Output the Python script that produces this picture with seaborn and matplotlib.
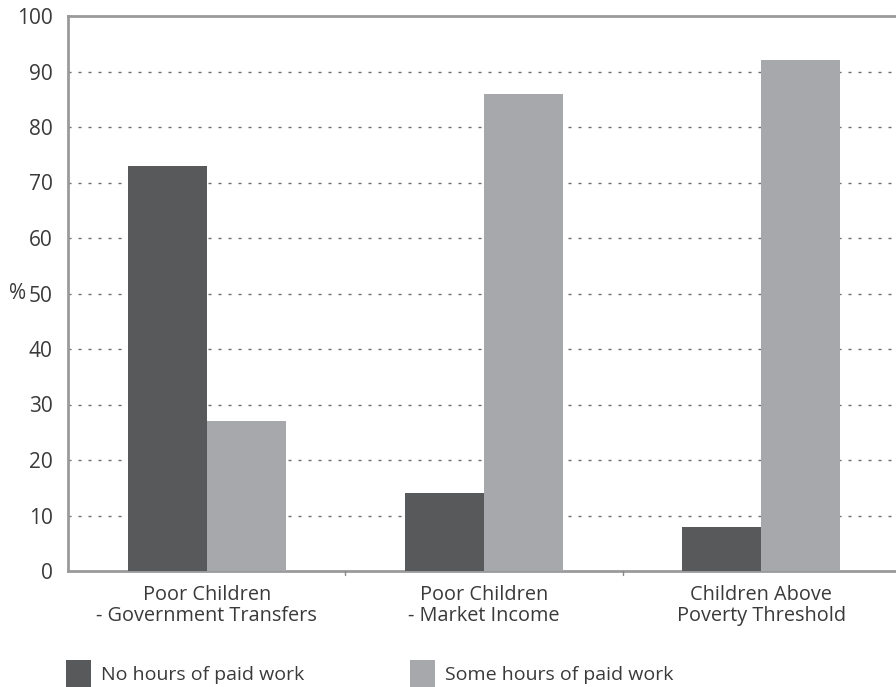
import matplotlib
matplotlib.use("Agg")
import matplotlib.pyplot as plt
import seaborn as sns
import pandas as pd
from matplotlib.patches import Patch

categories = ["Poor Children\n- Government Transfers", "Poor Children\n- Market Income", "Children Above\nPoverty Threshold"]
series_names = ["No hours of paid work", "Some hours of paid work"]
no_hours = [73, 14, 8]
some_hours = [27, 86, 92]
yticks = [0, 10, 20, 30, 40, 50, 60, 70, 80, 90, 100]

sns.set_theme(style="white")
plt.rcParams['font.family'] = ['Open Sans', 'DejaVu Sans']

df = pd.DataFrame({
    "category": categories * 2,
    "series": [series_names[0]] * 3 + [series_names[1]] * 3,
    "value": no_hours + some_hours,
})

text_color = "#3a3a3a"
colors = ["#58595b", "#a7a8ab"]
fig = plt.figure(figsize=(8.96, 6.87), dpi=100)
ax = fig.add_axes([68/896, (687-571)/687, (900-68)/896, (571-16)/687])

sns.barplot(data=df, x="category", y="value", hue="series", palette=colors,
            width=0.57, saturation=1, ax=ax, zorder=3, legend=False, linewidth=0)

ax.set_xlim(-0.5, 2.5)
ax.set_ylim(0, 100)
ax.set_yticks(yticks)
ax.set_yticklabels([str(t) for t in yticks], fontsize=15, color=text_color)
ax.set_xlabel("")
ax.set_ylabel("%", rotation=0, fontsize=15, color=text_color, va="center", ha="center")
ax.yaxis.set_label_coords((17.5-68)/832, 0.5)

for y in yticks[1:-1]:
    ax.axhline(y, color="#6f6f6f", linestyle=(0, (2.2, 5)), linewidth=1.0, zorder=1)

ax.set_xticks([0, 1, 2])
ax.set_xticklabels(categories, fontsize=14.3, color=text_color, linespacing=1.08)
ax.tick_params(axis="x", length=0, pad=10)
for xb in [0.5, 1.5]:
    ax.plot([xb, xb], [0, -0.8], color="#888888", lw=1, clip_on=False, zorder=4)
ax.tick_params(axis="y", length=3, width=1, color="#666666", direction="out", pad=8)

for side in ["left", "top", "bottom"]:
    ax.spines[side].set_color("#9a9a9c")
    ax.spines[side].set_linewidth(2)
    ax.spines[side].set_visible(True)
ax.spines["right"].set_visible(False)

legend_x = [66, 410]
for name, c, lx in zip(series_names, colors, legend_x):
    leg = fig.legend([Patch(facecolor=c, edgecolor="none")], [name], loc="center left",
                     bbox_to_anchor=(lx/896, (687-673.5)/687), frameon=False, fontsize=14,
                     handlelength=1.28, handleheight=1.8, handletextpad=0.5,
                     borderpad=0, borderaxespad=0, labelcolor=text_color)

fig.savefig("out.png", dpi=100)
